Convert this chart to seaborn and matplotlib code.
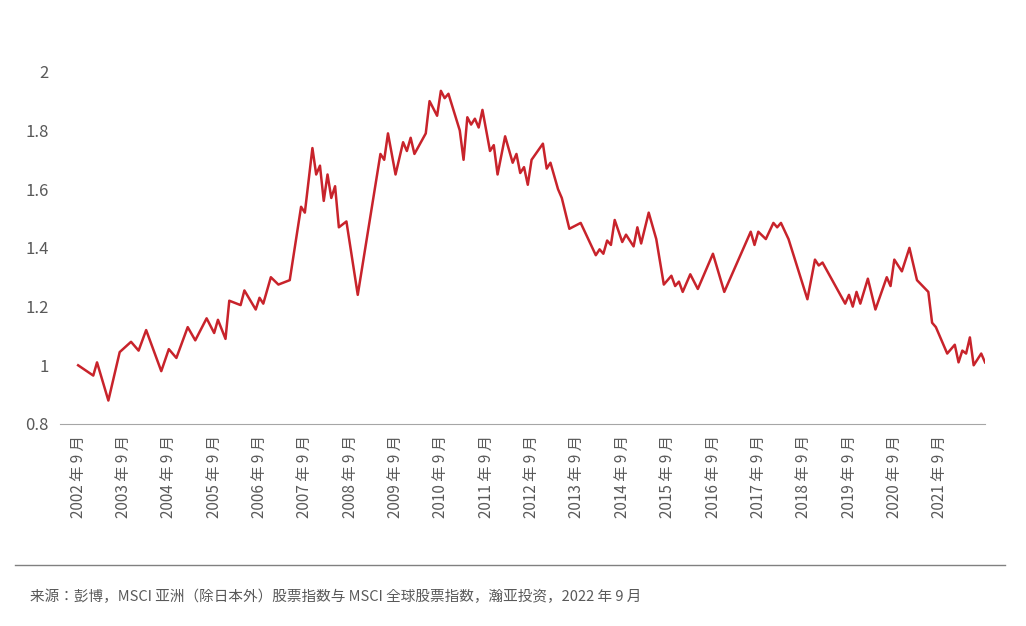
import matplotlib
matplotlib.use("Agg")
import matplotlib.pyplot as plt
from matplotlib import font_manager
import seaborn as sns
import pandas as pd

# 月份偏移（自 2002 年 9 月起）与比值
months = [0, 4, 5, 8, 11, 14, 16, 18, 22, 24, 26, 29, 31, 34, 36, 37, 39, 40, 43, 44,
          47, 48, 49, 51, 53, 56, 59, 60, 62, 63, 64, 65, 66, 67, 68, 69, 71, 74, 80, 81,
          82, 84, 86, 87, 88, 89, 92, 93, 95, 96, 97, 98, 101, 102, 103, 104, 105, 106, 107, 109,
          110, 111, 113, 115, 116, 117, 118, 119, 120, 123, 124, 125, 127, 128, 130, 133, 137, 138, 139, 140,
          141, 142, 144, 145, 147, 148, 149, 151, 153, 155, 157, 158, 159, 160, 162, 164, 168, 171, 178, 179,
          180, 182, 184, 185, 186, 188, 193, 195, 196, 197, 203, 204, 205, 206, 207, 209, 211, 214, 215, 216,
          218, 220, 222, 225, 226, 227, 230, 232, 233, 234, 235, 236, 237, 239, 240]
ratio = [1.00, 0.965, 1.01, 0.88, 1.045, 1.08, 1.05, 1.12, 0.98, 1.055, 1.025, 1.13, 1.085, 1.16, 1.11, 1.155, 1.09, 1.22, 1.205, 1.255,
         1.19, 1.23, 1.21, 1.30, 1.275, 1.29, 1.54, 1.52, 1.74, 1.65, 1.68, 1.56, 1.65, 1.57, 1.61, 1.47, 1.49, 1.24, 1.72, 1.70,
         1.79, 1.65, 1.76, 1.73, 1.775, 1.72, 1.79, 1.90, 1.85, 1.935, 1.91, 1.925, 1.80, 1.70, 1.845, 1.82, 1.84, 1.81, 1.87, 1.73,
         1.75, 1.65, 1.78, 1.69, 1.72, 1.655, 1.675, 1.615, 1.70, 1.755, 1.67, 1.69, 1.60, 1.57, 1.465, 1.485, 1.375, 1.395, 1.38, 1.425,
         1.41, 1.495, 1.42, 1.445, 1.405, 1.47, 1.415, 1.52, 1.43, 1.275, 1.305, 1.27, 1.285, 1.25, 1.31, 1.26, 1.38, 1.25, 1.455, 1.41,
         1.455, 1.43, 1.485, 1.47, 1.485, 1.43, 1.225, 1.36, 1.34, 1.35, 1.21, 1.24, 1.20, 1.25, 1.21, 1.295, 1.19, 1.30, 1.27, 1.36,
         1.32, 1.40, 1.29, 1.25, 1.145, 1.13, 1.04, 1.07, 1.01, 1.05, 1.04, 1.095, 1.00, 1.04, 1.01]
tick_years = list(range(2002, 2022))
yticks = [0.8, 1, 1.2, 1.4, 1.6, 1.8, 2]
source = "来源：彭博，MSCI 亚洲（除日本外）股票指数与 MSCI 全球股票指数，瀚亚投资，2022 年 9 月"

# 找到可用的中文字体
cjk = None
for f in font_manager.fontManager.ttflist:
    if 'CJK' in f.name:
        cjk = f.name
        if 'SC' in f.name:
            break
plt.rcParams['font.family'] = 'sans-serif'
plt.rcParams['font.sans-serif'] = [cjk or 'Noto Sans CJK SC', 'Noto Sans CJK JP', 'DejaVu Sans']
grey = '#595959'

df = pd.DataFrame({"m": months, "v": ratio})
fig = plt.figure(figsize=(10.26, 6.26), dpi=100)
ax = fig.add_axes([60 / 1026, 1 - 424 / 626, 925 / 1026, 364 / 626])
sns.lineplot(data=df, x="m", y="v", ax=ax, color='#C8232B', linewidth=1.8)

ax.set_xlim(-4.8, 240)
ax.set_ylim(0.8, 2.04)
ax.set_xticks([12 * i for i in range(len(tick_years))])
ax.set_xticklabels([f"{y} 年 9 月" for y in tick_years], rotation=90, fontsize=11, color=grey)
ax.set_yticks(yticks)
ax.set_yticklabels([f"{t:g}" for t in yticks], fontsize=12, color=grey)
ax.tick_params(length=0, pad=8)
ax.set_xlabel("")
ax.set_ylabel("")
for s in ['top', 'right', 'left']:
    ax.spines[s].set_visible(False)
ax.spines['bottom'].set_color('#A6A6A6')

fig.add_artist(plt.Line2D([15 / 1026, 1005 / 1026], [1 - 565 / 626] * 2, color='#808080', linewidth=1))
fig.text(30 / 1026, 1 - 597 / 626, source, fontsize=10.5, color=grey, va='center')

fig.savefig("out.png", dpi=100)
